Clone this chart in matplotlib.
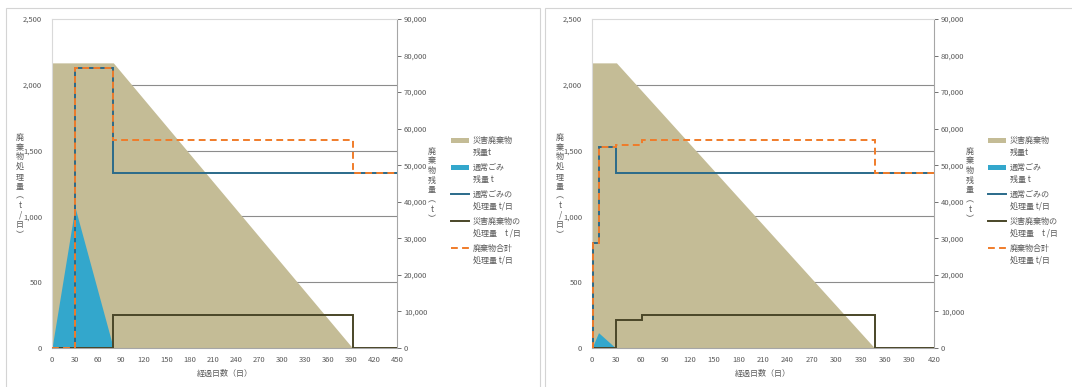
import numpy as np
import matplotlib
matplotlib.use("Agg")
import matplotlib.pyplot as plt
from matplotlib.lines import Line2D
from matplotlib.patches import Rectangle
from matplotlib.ticker import FuncFormatter, FixedLocator

plt.rcParams['font.family'] = ['Noto Sans CJK JP', 'DejaVu Sans']

W, H = 1072, 387

# ---- case A (left chart) ----
a_days_max = 450
a_stock_days = [0, 80, 392, 450]
a_stock = [78000, 78000, 0, 0]
a_normal_stock_days = [0, 30, 80]
a_normal_stock = [0, 38500, 0]
a_normal_edges = [0, 30, 80, 450]
a_normal_rate = [0, 2130, 1330]
a_disaster_edges = [0, 80, 392, 450]
a_disaster_rate = [0, 250, 0]

# ---- case B (right chart) ----
b_days_max = 420
b_stock_days = [0, 30, 347, 420]
b_stock = [78000, 78000, 0, 0]
b_normal_stock_days = [0, 8, 29]
b_normal_stock = [0, 4200, 0]
b_normal_edges = [0, 1, 8, 30, 420]
b_normal_rate = [0, 800, 1530, 1330]
b_disaster_edges = [0, 30, 62, 347, 420]
b_disaster_rate = [0, 210, 250, 0]

left_ticks = [0, 500, 1000, 1500, 2000, 2500]
right_ticks = [0, 10000, 20000, 30000, 40000, 50000, 60000, 70000, 80000, 90000]

legend_labels = ["災害廃棄物\n残量t", "通常ごみ\n残量 t", "通常ごみの\n処理量 t/日",
                 "災害廃棄物の\n処理量　t /日", "廃棄物合計\n処理量 t/日"]

C_STOCK = "#c4bc96"
C_NSTOCK = "#33a7cc"
C_NRATE = "#2a6a8a"
C_DRATE = "#4a4628"
C_TOTAL = "#f07c2a"
C_TEXT = "#595959"


def step_value(edges, vals, x):
    i = np.searchsorted(edges, x, side="right") - 1
    return np.asarray(vals)[np.clip(i, 0, len(vals) - 1)]


def fx(x):
    return x / W


def fy(y):
    return 1 - y / H


def draw_panel(fig, left_px, width_px, days_max, stock_days, stock, ns_days, ns,
               n_edges, n_rate, d_edges, d_rate):
    rect = [fx(left_px), fy(348), fx(width_px), 329 / H]
    ax = fig.add_axes(rect)
    ax2 = ax.twinx()
    ax.set_zorder(2)
    ax2.set_zorder(1)
    ax.patch.set_visible(False)

    # areas on the right axis
    ax2.fill_between(stock_days, stock, color=C_STOCK, lw=0, zorder=1)
    ax2.fill_between(ns_days, ns, color=C_NSTOCK, lw=0, zorder=2)
    ax2.set_ylim(0, 90000)
    ax2.yaxis.set_major_locator(FixedLocator(right_ticks))
    ax2.yaxis.set_major_formatter(FuncFormatter(lambda v, p: f"{int(v):,}"))
    ax2.tick_params(axis='y', labelsize=5.5, colors=C_TEXT, length=3, width=0.6, pad=2)
    for t in ax2.get_yticklines():
        t.set_color("#a6a6a6")
    # grid behind areas
    ax2.set_axisbelow(True)
    ax2.grid(axis='x', color="#d9d9d9", lw=0.8)
    scale = 90000 / 2500
    ax2.yaxis.set_minor_locator(FixedLocator([v * scale for v in left_ticks[1:-1]]))
    ax2.grid(axis='y', which='minor', color="#8c8c8c", lw=0.8)
    ax2.tick_params(axis='y', which='minor', length=0)

    # processing lines on the left axis
    edges = sorted(set(n_edges) | set(d_edges))
    mids = [(edges[i] + edges[i + 1]) / 2 for i in range(len(edges) - 1)]
    total = [step_value(n_edges, n_rate, m) + step_value(d_edges, d_rate, m) for m in mids]
    ax.stairs(n_rate, n_edges, baseline=None, color=C_NRATE, lw=1.4, zorder=3)
    ax.stairs(d_rate, d_edges, baseline=None, color=C_DRATE, lw=1.4, zorder=3)
    ax.stairs(total, edges, baseline=None, color=C_TOTAL, lw=1.4, ls=(0, (3.5, 2.2)), zorder=4)

    ax.set_xlim(0, days_max)
    ax.set_ylim(0, 2500)
    ax.set_xticks(range(0, days_max + 1, 30))
    ax.set_yticks(left_ticks)
    ax.yaxis.set_major_formatter(FuncFormatter(lambda v, p: f"{int(v):,}"))
    ax.tick_params(axis='both', labelsize=5.5, colors=C_TEXT, length=0)
    ax.tick_params(axis='x', pad=6)
    ax.tick_params(axis='y', pad=7)

    for s in ax.spines.values():
        s.set_visible(False)
    for name, s in ax2.spines.items():
        s.set_linewidth(0.8)
        s.set_color("#d9d9d9" if name in ("left", "top") else "#a6a6a6")
    return ax, ax2


def vertical(s):
    return "\n".join(s)


def draw_legend(fig, x0, y0):
    handles = [("patch", C_STOCK, "-"), ("patch", C_NSTOCK, "-"),
               ("line", C_NRATE, "-"), ("line", C_DRATE, "-"), ("line", C_TOTAL, "--")]
    for i, ((kind, col, ls), lab) in enumerate(zip(handles, legend_labels)):
        y = y0 + i * 27
        if kind == "patch":
            fig.add_artist(Rectangle((fx(x0), fy(y + 2.5)), fx(18), 5 / H,
                                     transform=fig.transFigure, color=col, lw=0))
        else:
            dash = (0, (3.5, 2.2)) if ls == "--" else "-"
            fig.add_artist(Line2D([fx(x0), fx(x0 + 18)], [fy(y), fy(y)],
                                  transform=fig.transFigure, color=col, lw=1.4, ls=dash))
        for j, line in enumerate(lab.split("\n")):
            fig.text(fx(x0 + 22), fy(y + j * 12), line, fontsize=5.8, color=C_TEXT,
                     ha="left", va="center")


fig = plt.figure(figsize=(W / 100, H / 100), dpi=100)

# panel borders
fig.add_artist(Rectangle((fx(6), fy(390)), fx(534), 382 / H, transform=fig.transFigure,
                         fill=False, ec="#d4d4d4", lw=0.8))
fig.add_artist(Rectangle((fx(545), fy(390)), fx(540), 382 / H, transform=fig.transFigure,
                         fill=False, ec="#d4d4d4", lw=0.8))

draw_panel(fig, 52, 345, a_days_max, a_stock_days, a_stock, a_normal_stock_days,
           a_normal_stock, a_normal_edges, a_normal_rate, a_disaster_edges, a_disaster_rate)
draw_panel(fig, 592, 342, b_days_max, b_stock_days, b_stock, b_normal_stock_days,
           b_normal_stock, b_normal_edges, b_normal_rate, b_disaster_edges, b_disaster_rate)

left_label = vertical("廃棄物処理量︵t/日︶")
right_label = vertical("廃棄物残量︵t︶")
for lx, rx, cx in [(20, 432, 225), (560, 970, 763)]:
    fig.text(fx(lx), fy(186), left_label, fontsize=5.8, color=C_TEXT, ha="center",
             va="center", linespacing=1.1)
    fig.text(fx(rx), fy(185), right_label, fontsize=5.8, color=C_TEXT, ha="center",
             va="center", linespacing=1.1)
    fig.text(fx(cx), fy(373), "経過日数（日）", fontsize=5.8, color=C_TEXT,
             ha="center", va="center")

draw_legend(fig, 451, 140)
draw_legend(fig, 988, 140)

fig.savefig("out.png", dpi=100)
